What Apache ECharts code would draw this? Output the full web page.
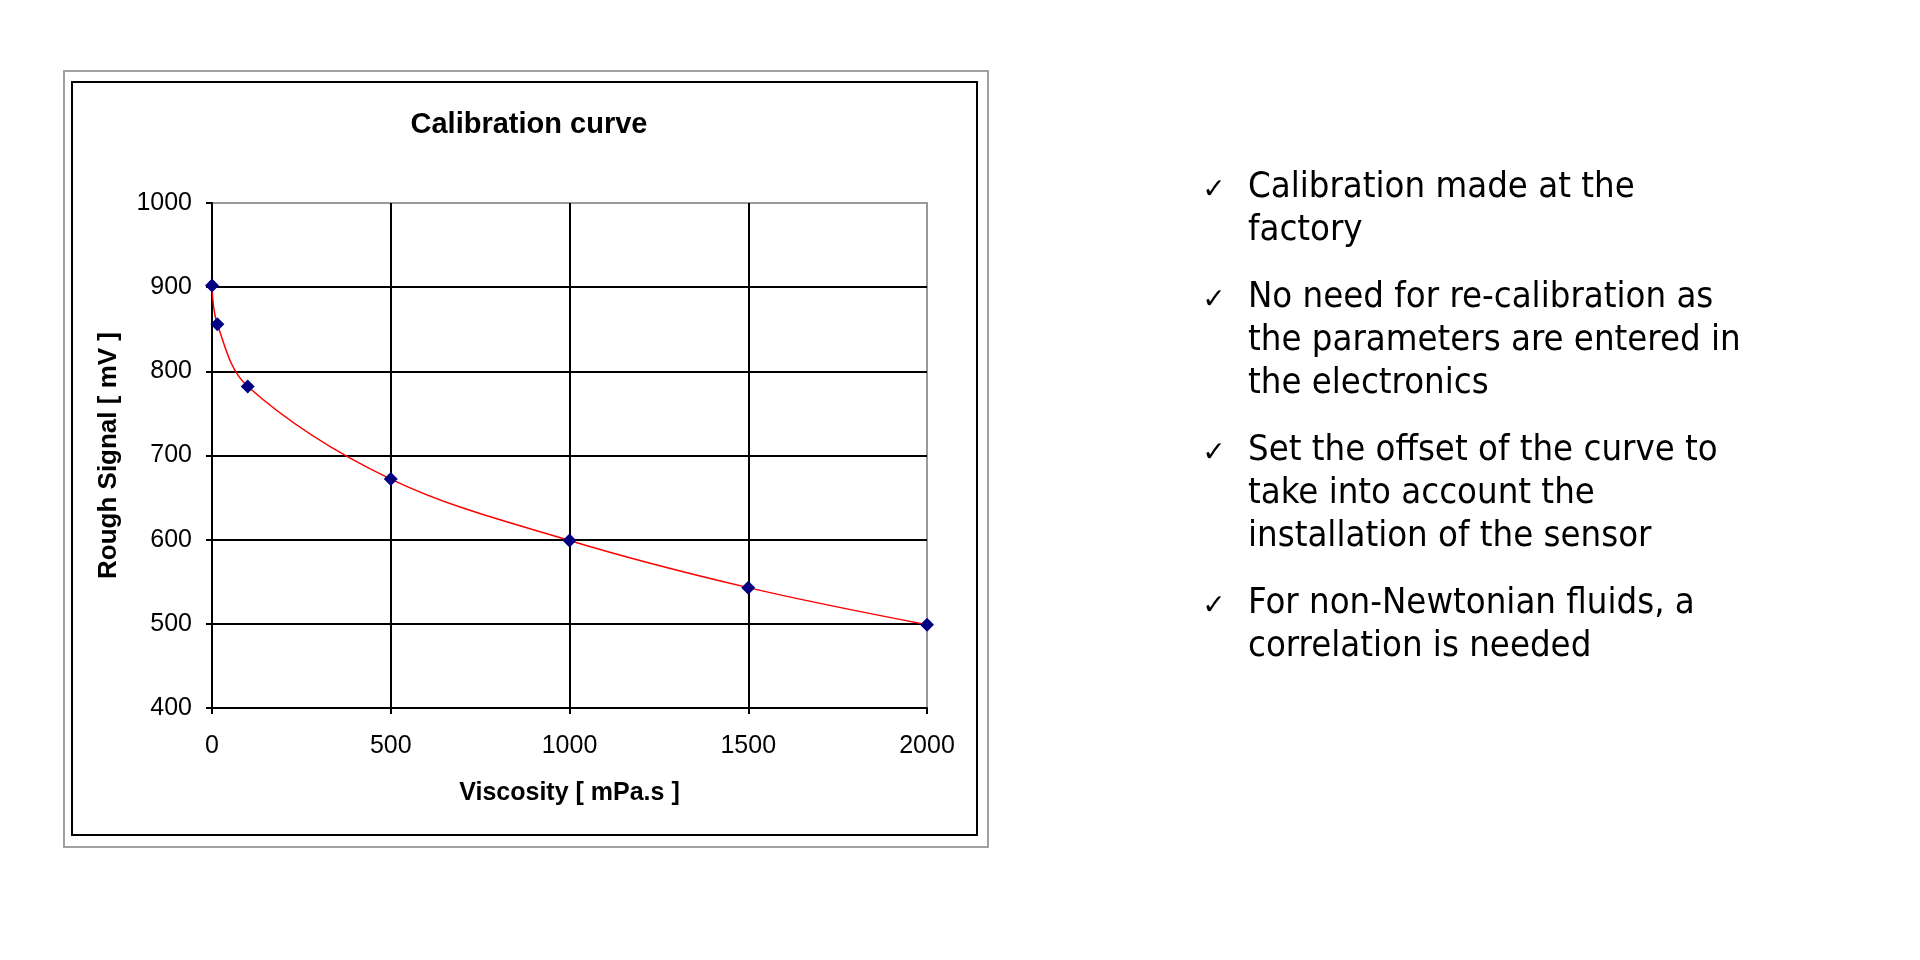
<!DOCTYPE html>
<html>
<head>
<meta charset="utf-8">
<script src="https://cdn.jsdelivr.net/npm/echarts@6/dist/echarts.min.js"></script>
<style>
  html, body { margin: 0; padding: 0; background: #fff; }
  #main { width: 1920px; height: 960px; }
</style>
</head>
<body>
<div id="main"></div>
<script>
// data
var viscosity = [0, 15, 100, 500, 1000, 1500, 2000];
var roughSignal = [902, 856, 782, 672, 599, 543, 499];
var xTicks = [0, 500, 1000, 1500, 2000];
var yTicks = [400, 500, 600, 700, 800, 900, 1000];

// notes on the right, one array per bullet (already wrapped like the slide)
var notes = [
    ['Calibration made at the', 'factory'],
    ['No need for re-calibration as', 'the parameters are entered in', 'the electronics'],
    ['Set the offset of the curve to', 'take into account the', 'installation of the sensor'],
    ['For non-Newtonian fluids, a', 'correlation is needed']
];

var chart = echarts.init(document.getElementById('main'));

// size the note font so the first line is as wide as on the slide
var noteFont = '"DejaVu Sans Condensed", "DejaVu Sans", sans-serif';
var ctx = document.createElement('canvas').getContext('2d');
ctx.font = '100px ' + noteFont;
var noteSize = Math.round(100 * 387 / ctx.measureText(notes[0][0]).width * 10) / 10;

var noteTexts = [];
var paraTop = [188, 298, 451, 604];
notes.forEach(function (lines, i) {
    noteTexts.push({
        type: 'text',
        style: { x: 1214, y: paraTop[i] + 3, text: '\u2713', font: '28px "DejaVu Sans"', fill: '#000', align: 'center', verticalAlign: 'middle' }
    });
    lines.forEach(function (line, j) {
        noteTexts.push({
            type: 'text',
            style: { x: 1248, y: paraTop[i] + j * 43, text: line, fontSize: noteSize, fontFamily: noteFont, fill: '#000', verticalAlign: 'middle' }
        });
    });
});

var axisFont = 'Liberation Sans, Arial, sans-serif';
var plain = function (v) { return String(v); };

var option = {
    backgroundColor: '#fff',
    animation: false,
    title: {
        text: 'Calibration curve',
        left: 524,
        top: 105,
        textAlign: 'center',
        textStyle: { color: '#000', fontSize: 29, fontWeight: 'bold', fontFamily: axisFont }
    },
    grid: {
        left: 212,
        right: 1920 - 927,
        top: 203,
        height: 505,
        show: true,
        borderColor: '#999',
        borderWidth: 2
    },
    xAxis: {
        type: 'value',
        min: xTicks[0],
        max: xTicks[xTicks.length - 1],
        interval: 500,
        name: 'Viscosity [ mPa.s ]',
        nameLocation: 'middle',
        nameGap: 73,
        nameTextStyle: { color: '#000', fontSize: 25, fontWeight: 'bold', fontFamily: axisFont },
        axisLine: { lineStyle: { color: '#000', width: 2 } },
        axisTick: { show: true, length: 6, lineStyle: { color: '#000', width: 2 } },
        axisLabel: { color: '#000', fontSize: 25, fontFamily: axisFont, margin: 26, formatter: plain },
        splitLine: { show: true, showMinLine: false, showMaxLine: false, lineStyle: { color: '#000', width: 2 } }
    },
    yAxis: {
        type: 'value',
        min: yTicks[0],
        max: yTicks[yTicks.length - 1],
        interval: 100,
        name: 'Rough Signal [ mV ]',
        nameLocation: 'middle',
        nameGap: 90,
        nameTextStyle: { color: '#000', fontSize: 26, fontWeight: 'bold', fontFamily: axisFont },
        axisLine: { show: true, lineStyle: { color: '#000', width: 2 } },
        axisTick: { show: true, length: 6, lineStyle: { color: '#000', width: 2 } },
        axisLabel: { color: '#000', fontSize: 25, fontFamily: axisFont, margin: 20, formatter: plain },
        splitLine: { show: true, showMinLine: false, showMaxLine: false, lineStyle: { color: '#000', width: 2 } }
    },
    series: [
        {
            name: 'Rough Signal',
            type: 'line',
            data: viscosity.map(function (v, i) { return [v, roughSignal[i]]; }),
            smooth: 0.35,
            symbol: 'diamond',
            symbolSize: 14,
            itemStyle: { color: '#000080' },
            lineStyle: { color: '#ff0000', width: 1.5 },
            z: 5
        }
    ],
    graphic: [
        // chart-area frames (outer grey, inner black)
        { type: 'rect', z: -1, shape: { x: 64, y: 71, width: 924, height: 776 }, style: { fill: 'none', stroke: '#a0a0a0', lineWidth: 2 } },
        { type: 'rect', z: -1, shape: { x: 72, y: 82, width: 905, height: 753 }, style: { fill: 'none', stroke: '#000', lineWidth: 2 } }
    ].concat(noteTexts)
};

chart.setOption(option);
</script>
</body>
</html>
